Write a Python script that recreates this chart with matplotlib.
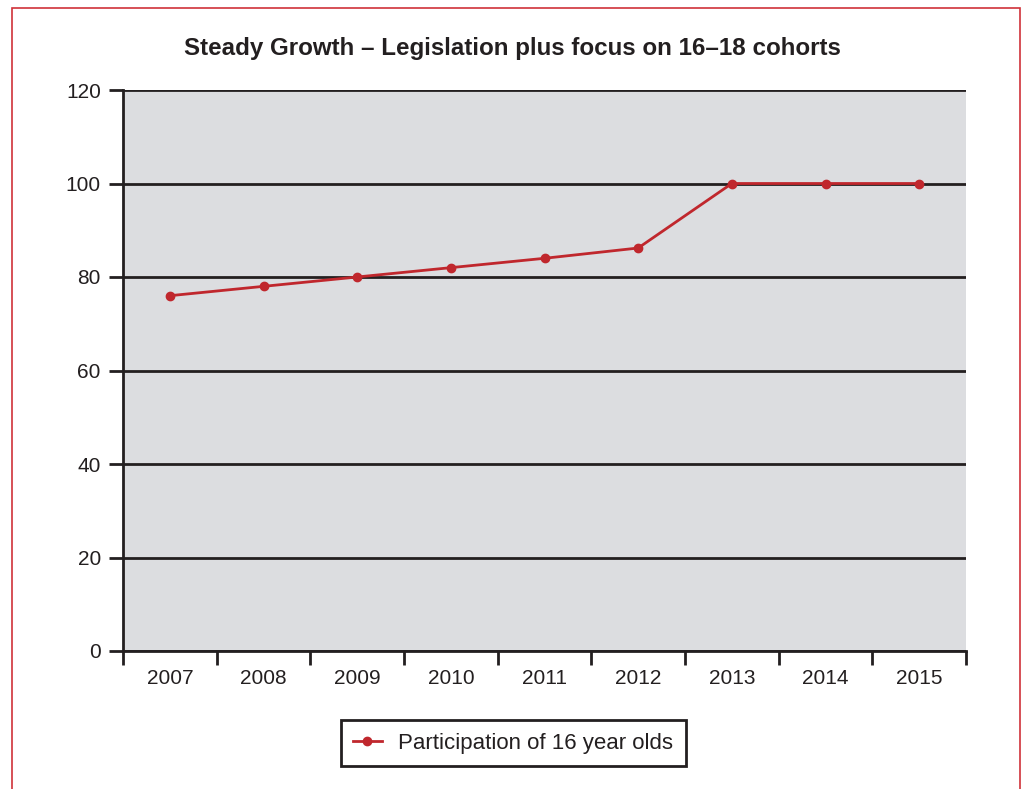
import matplotlib
matplotlib.use("Agg")
import matplotlib.pyplot as plt
from matplotlib.patches import Rectangle

plt.rcParams['font.family'] = ['Liberation Sans', 'DejaVu Sans']

years = ["2007", "2008", "2009", "2010", "2011", "2012", "2013", "2014", "2015"]
participation = [76, 78, 80, 82, 84, 86.2, 100, 100, 100]
y_ticks = [0, 20, 40, 60, 80, 100, 120]

dark = "#231f20"
red = "#c0272d"

fig = plt.figure(figsize=(10.25, 7.89), dpi=100)
ax = fig.add_axes([123 / 1025, 1 - 651 / 789, 843 / 1025, 561 / 789])
ax.set_facecolor("#dcdde0")

# red frame around the figure
fig.add_artist(Rectangle((12 / 1025, -0.1), 1008 / 1025, 1.1 - 8 / 789,
                         transform=fig.transFigure, fill=False,
                         edgecolor="#d0323a", linewidth=1.2))

x = list(range(len(years)))
ax.plot(x, participation, color=red, linewidth=2, marker="o", markersize=6,
        label="Participation of 16 year olds", zorder=3)

ax.set_xlim(-0.5, len(years) - 0.5)
ax.set_ylim(0, 120)
ax.set_yticks(y_ticks)
ax.set_yticklabels([str(v) for v in y_ticks], fontsize=15, color=dark)
ax.yaxis.grid(True, color=dark, linewidth=2)
ax.set_axisbelow(True)

# category boundaries as ticks, labels in the middle
ax.set_xticks([i - 0.5 for i in range(len(years) + 1)])
ax.set_xticklabels([])
ax.set_xticks(x, minor=True)
ax.set_xticklabels(years, minor=True, fontsize=15, color=dark)
ax.tick_params(axis="x", which="major", direction="out", length=10, width=2, color=dark)
ax.tick_params(axis="x", which="minor", length=0, pad=13)
ax.tick_params(axis="y", direction="out", length=10, width=2, color=dark, pad=6)

for side in ["top", "right"]:
    ax.spines[side].set_visible(False)
ax.spines["left"].set_color(dark)
ax.spines["left"].set_linewidth(2)
ax.spines["bottom"].set_color(dark)
ax.spines["bottom"].set_linewidth(2)

fig.text(0.5, 1 - 48 / 789, "Steady Growth \u2013 Legislation plus focus on 16\u201318 cohorts",
         ha="center", va="center", fontsize=17.4, fontweight="bold", color=dark)

leg = fig.legend(loc="center", bbox_to_anchor=(513 / 1025, 1 - 743 / 789), fontsize=16,
                 frameon=True, fancybox=False, edgecolor=dark, framealpha=1,
                 handlelength=1.3, borderpad=0.55, handletextpad=0.75)
leg.get_frame().set_linewidth(2)
for t in leg.get_texts():
    t.set_color(dark)

fig.savefig("out.png", dpi=100)
